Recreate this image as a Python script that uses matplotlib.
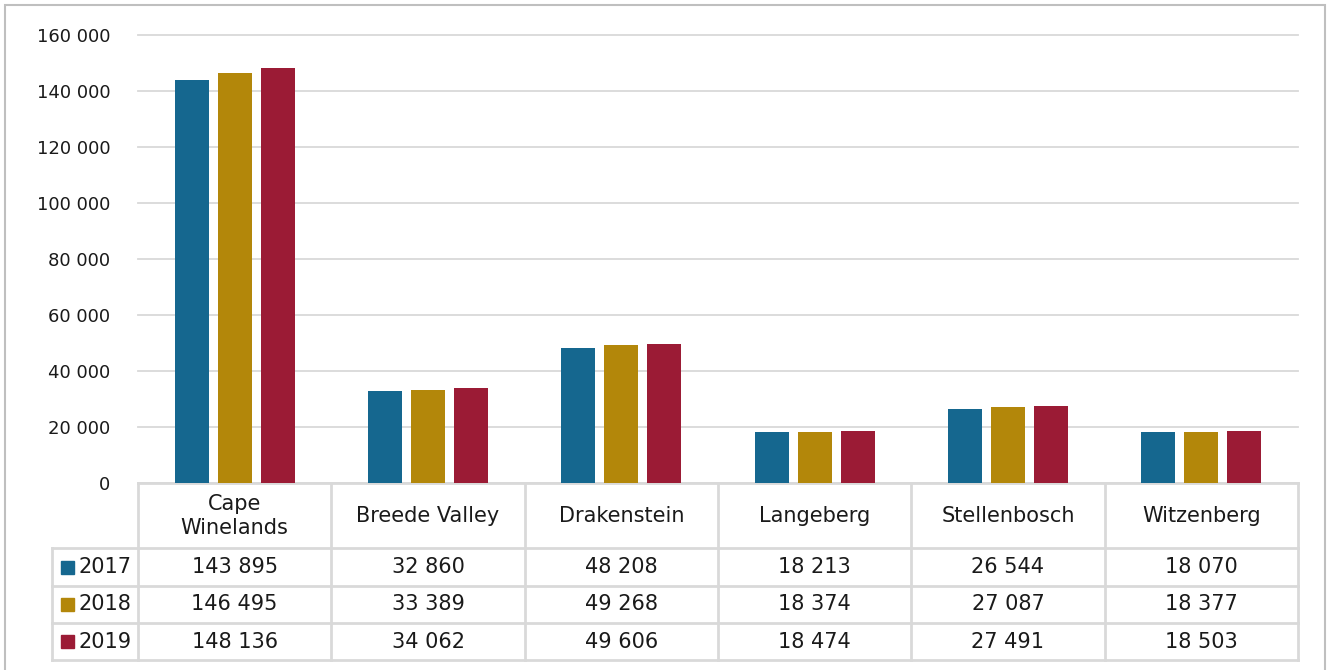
import numpy as np
import matplotlib
matplotlib.use("Agg")
from matplotlib import pyplot as plt
from matplotlib.transforms import blended_transform_factory
from matplotlib.patches import Rectangle

regions = ["Cape\nWinelands", "Breede Valley", "Drakenstein", "Langeberg", "Stellenbosch", "Witzenberg"]
years = ["2017", "2018", "2019"]
v2017 = [143895, 32860, 48208, 18213, 26544, 18070]
v2018 = [146495, 33389, 49268, 18374, 27087, 18377]
v2019 = [148136, 34062, 49606, 18474, 27491, 18503]
colors = ["#15678F", "#B3870A", "#9B1B35"]

W, H = 1328, 670
fig = plt.figure(figsize=(W / 100, H / 100), dpi=100)
plt.rcParams['font.family'] = ['DejaVu Sans']

def fy(py):
    return 1 - py / H

ax = fig.add_axes([138 / W, fy(483), (1298 - 138) / W, (483 - 35) / H])
x = np.arange(len(regions))
bw, step = 0.176, 0.222
series = [v2017, v2018, v2019]
for i, (vals, c) in enumerate(zip(series, colors)):
    ax.bar(x + (i - 1) * step, vals, bw, color=c, zorder=3)

ax.set_xlim(-0.5, len(regions) - 0.5)
ax.set_ylim(0, 160000)
ax.set_yticks(np.arange(0, 160001, 20000))
ax.set_yticklabels(["0" if t == 0 else f"{t // 1000} 000" for t in range(0, 160001, 20000)],
                   fontsize=13, color="#1a1a1a")
ax.tick_params(axis="y", length=0, pad=20)
ax.set_xticks([])
ax.grid(axis="y", color="#D9D9D9", lw=1.3, zorder=0)
for gl in ax.get_ygridlines():
    gl.set_clip_on(False)
for s in ax.spines.values():
    s.set_visible(False)

# data table under the axis
tr = blended_transform_factory(ax.transData, fig.transFigure)
lc, lw = "#D9D9D9", 2
rows_y = [483, 548, 586, 623, 660]
x0 = -0.5 - 86 / (1160 / 6)
for k, py in enumerate(rows_y):
    xs = -0.5 if k == 0 else x0
    ax.plot([xs, 5.5], [fy(py)] * 2, color=lc, lw=lw, transform=tr, clip_on=False)
for j in range(len(regions) + 1):
    ax.plot([j - 0.5] * 2, [fy(483), fy(660)], color=lc, lw=lw, transform=tr, clip_on=False)
ax.plot([x0] * 2, [fy(548), fy(660)], color=lc, lw=lw, transform=tr, clip_on=False)

for j, name in enumerate(regions):
    ax.text(j, fy(516), name, transform=tr, ha="center", va="center", fontsize=15,
            color="#1a1a1a", linespacing=1.3)
for k, (yr, vals, c) in enumerate(zip(years, series, colors)):
    cy = fy((rows_y[k + 1] + rows_y[k + 2]) / 2)
    fig.patches.append(Rectangle((61 / W, cy - 6.5 / H), 13 / W, 13 / H, color=c,
                                 transform=fig.transFigure))
    fig.text(78 / W, cy, yr, ha="left", va="center", fontsize=15, color="#1a1a1a")
    for j, v in enumerate(vals):
        ax.text(j, cy, f"{v:,}".replace(",", " "), transform=tr, ha="center", va="center",
                fontsize=15, color="#1a1a1a")

# outer border
fig.patches.append(Rectangle((5 / W, -0.01), 1320 / W, fy(5) + 0.01, fill=False,
                             edgecolor="#BFBFBF", lw=1.5, transform=fig.transFigure))

fig.savefig("out.png", dpi=100)
